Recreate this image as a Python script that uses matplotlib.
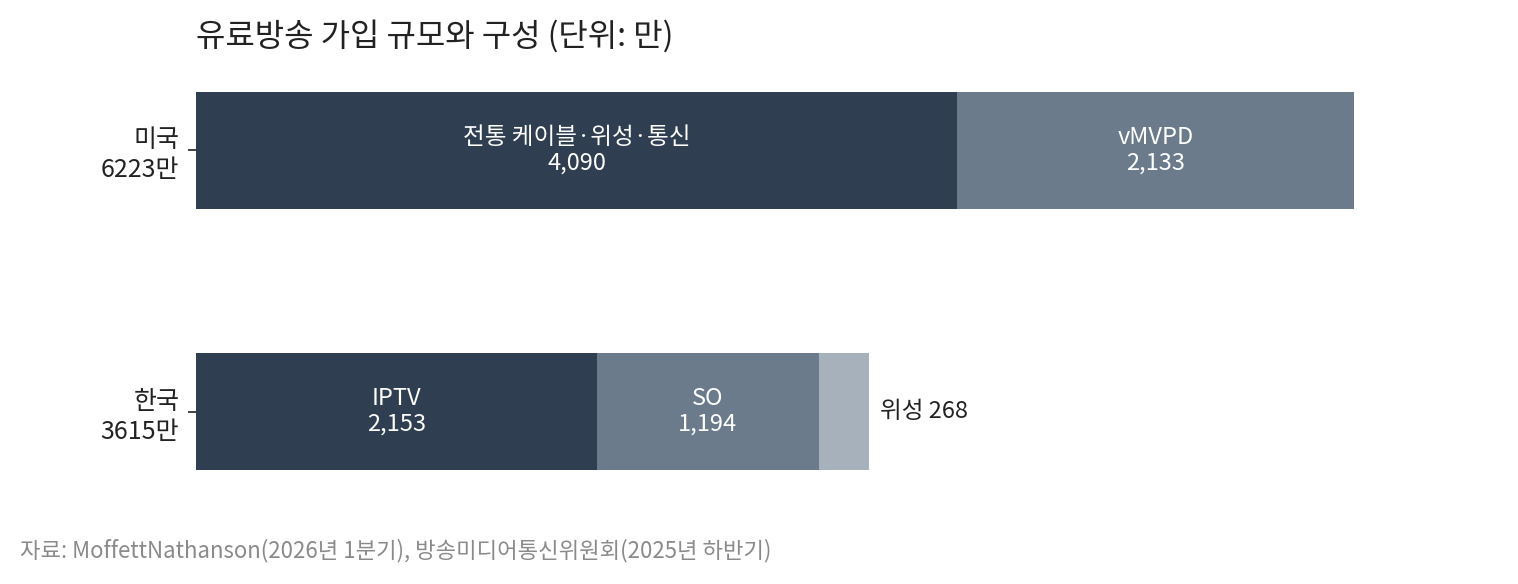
import numpy as np
import matplotlib.pyplot as plt

plt.rcParams['font.family'] = ['Noto Sans CJK KR', 'DejaVu Sans']

# 데이터
countries = ['미국', '한국']
totals = [6223, 3615]
us_names = ['전통 케이블·위성·통신', 'vMVPD']
us_values = [4090, 2133]
kr_names = ['IPTV', 'SO', '위성']
kr_values = [2153, 1194, 268]

colors = ['#2f3e50', '#6b7b8c', '#a6b1bc']

fig = plt.figure(figsize=(15.18, 5.84), dpi=100)
ax = fig.add_axes([196/1518, 1 - 516/584, 1304/1518, (516-46)/584])

def stacked(y, names, values):
    left = 0
    for i, (n, v) in enumerate(zip(names, values)):
        ax.barh(y, v, left=left, height=0.448, color=colors[i], edgecolor='none')
        if v > 500:
            ax.text(left + v/2, y, n + '\n' + format(v, ','), ha='center', va='center',
                    color='white', fontsize=17, linespacing=1.14)
        else:
            ax.text(left + v + 60, y, n + ' ' + format(v, ','), ha='left', va='center',
                    color='#222222', fontsize=17)
        left += v

stacked(0, us_names, us_values)
stacked(1, kr_names, kr_values)

ax.set_xlim(0, 7007)
ax.set_ylim(1.4, -0.4)
ax.set_yticks([0, 1])
ax.set_yticklabels([c + '\n' + str(t) + '만' for c, t in zip(countries, totals)],
                   fontsize=18, color='#222222', linespacing=1.2, ha='right')
ax.tick_params(axis='y', length=6, width=1.2, color='#222222', pad=6)
ax.set_xticks([])
for s in ax.spines.values():
    s.set_visible(False)

fig.text(196/1518, 1 - 36/584, '유료방송 가입 규모와 구성 (단위: 만)', fontsize=23,
         color='#222222', va='center', ha='left')
fig.text(20/1518, 1 - 551/584,
         '자료: MoffettNathanson(2026년 1분기), 방송미디어통신위원회(2025년 하반기)',
         fontsize=16, color='#8a8a8a', va='center', ha='left')

fig.savefig('out.png', dpi=100)
